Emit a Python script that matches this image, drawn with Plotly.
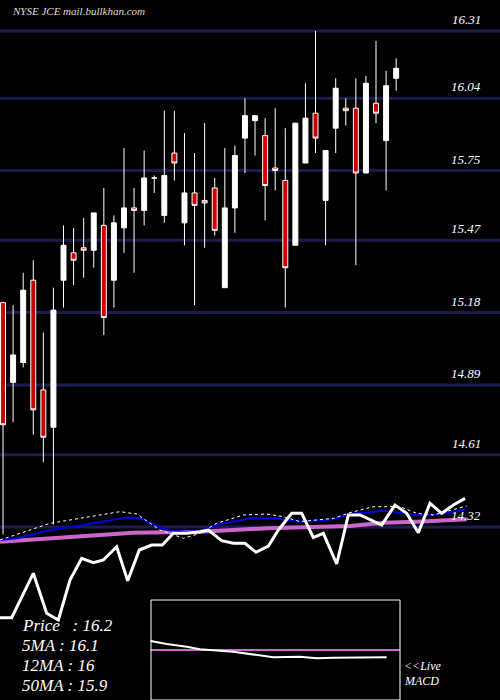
import plotly.graph_objects as go

idx = list(range(40))
opens  = [15.22,14.90,14.98,15.31,14.87,14.72,15.31,15.42,15.44,15.43,15.53,15.31,15.52,15.60,15.59,15.72,15.57,15.82,15.54,15.66,
          15.63,15.68,15.28,15.60,15.88,15.95,15.89,15.76,15.71,15.45,15.78,15.98,15.63,15.92,16.00,16.00,15.74,16.02,15.87,16.12]
highs  = [15.22,15.21,15.34,15.39,15.10,15.28,15.53,15.52,15.56,15.58,15.68,15.57,15.84,15.68,15.83,15.73,15.99,15.99,15.90,15.82,
          15.94,15.72,15.84,15.85,16.04,15.97,15.96,16.00,15.92,15.94,16.10,16.31,15.83,16.12,16.04,16.12,16.13,16.27,16.15,16.20]
lows   = [14.29,14.74,14.96,14.69,14.58,14.33,15.20,15.29,15.32,15.36,15.09,15.20,15.42,15.34,15.53,15.66,15.54,15.71,15.45,15.21,
          15.44,15.49,15.28,15.50,15.74,15.81,15.55,15.67,15.20,15.45,15.78,15.82,15.45,15.82,15.93,15.37,15.74,15.94,15.67,16.07]
closes = [14.73,15.01,15.27,14.79,14.68,15.19,15.45,15.39,15.43,15.58,15.16,15.54,15.60,15.59,15.72,15.72,15.73,15.78,15.66,15.61,
          15.62,15.51,15.60,15.81,15.97,15.97,15.69,15.75,15.36,15.94,15.96,15.88,15.83,16.08,15.99,15.74,16.10,15.98,16.09,16.16]
tick_vals = [16.31,16.04,15.75,15.47,15.18,14.89,14.61,14.32]
tick_text = ["16.31","16.04","15.75","15.47","15.18","14.89","14.61","14.32"]

# lower indicator panel (panel units)
thick_x = [0,35,100,140,175,210,245,280,310,350,383,418,455,487,520,560,600,625,665,700,735,768,805,835,875,905,940,970,1010,1045,1080,1110,1145,1185,1220,1255,1290,1325,1360,1395]
thick_y = [383,383,250,370,390,270,205,218,210,170,272,180,165,165,130,130,125,120,152,160,160,187,168,120,70,70,143,130,222,75,75,90,105,45,70,128,40,70,45,25]
blue_x = [0,50,150,250,380,420,500,560,600,650,750,820,900,1000,1050,1150,1250,1300,1400]
blue_y = [150,145,120,105,82,85,120,125,122,105,85,85,95,88,72,62,75,75,58]
dot_x = [0,60,150,300,360,410,480,550,600,650,730,800,850,900,1000,1050,1120,1200,1250,1300,1400]
dot_y = [150,130,100,75,65,72,120,145,130,100,75,72,80,95,85,68,50,50,70,75,48]
pink_x = [0,400,600,800,1050,1150,1250,1400]
pink_y = [155,128,125,115,108,98,95,88]
macd_x = [452,500,560,600,700,820,900,950,1000,1160]
macd_y = [453,462,470,478,485,502,500,505,503,502]
signal_x = [452,1200]
signal_y = [480,480]
info_lines = ["Price   : 16.2","5MA : 16.1","12MA : 16","50MA : 15.9"]

serif = "Liberation Serif"
fig = go.Figure()
fig.add_trace(go.Candlestick(x=idx, open=opens, high=highs, low=lows, close=closes,
    increasing=dict(fillcolor="white", line=dict(color="white", width=1)),
    decreasing=dict(fillcolor="#cc0000", line=dict(color="white", width=1)),
    whiskerwidth=0, showlegend=False, hoverinfo="skip"))
for tv in tick_vals:
    fig.add_shape(type="line", xref="paper", x0=0, x1=1, yref="y", y0=tv, y1=tv,
                  line=dict(color="#1c1c4c", width=3), layer="below")
for tv, tt in zip(tick_vals, tick_text):
    fig.add_annotation(x=0.965, xref="paper", y=tv, yref="y", text=tt, showarrow=False,
                       xanchor="right", yanchor="bottom", yshift=2,
                       font=dict(family=serif, size=13, color="white", style="italic"))

def ln(x, y, color, width, dash=None):
    fig.add_trace(go.Scatter(x=x, y=y, xaxis="x2", yaxis="y2", mode="lines",
        line=dict(color=color, width=width, dash=dash), showlegend=False, hoverinfo="skip"))
ln(pink_x, pink_y, "#cc66cc", 4)
ln(blue_x, blue_y, "#0000dd", 2)
ln(dot_x, dot_y, "white", 1, "dot")
ln(thick_x, thick_y, "white", 3)
ln(signal_x, signal_y, "#cc66cc", 2)
ln(macd_x, macd_y, "white", 2)

fig.add_shape(type="rect", xref="paper", yref="paper", x0=151/500, x1=400/500, y0=0, y1=100/700,
              line=dict(color="white", width=1))
for i, t in enumerate(info_lines):
    fig.add_annotation(xref="paper", yref="paper", x=20/500, y=1-(625+20*i)/700, text=t, showarrow=False,
                       xanchor="left", yanchor="middle", font=dict(family=serif, size=17, color="white", style="italic"))
fig.add_annotation(xref="paper", yref="paper", x=402/500, y=1-666/700, text="<<Live", showarrow=False,
                   xanchor="left", yanchor="middle", font=dict(family=serif, size=12, color="white", style="italic"))
fig.add_annotation(xref="paper", yref="paper", x=402/500, y=1-681/700, text="MACD", showarrow=False,
                   xanchor="left", yanchor="middle", font=dict(family=serif, size=12, color="white", style="italic"))
fig.add_annotation(xref="paper", yref="paper", x=10/500, y=1-11/700, text="NYSE JCE mail.bullkhan.com", showarrow=False,
                   xanchor="left", yanchor="middle", font=dict(family=serif, size=11, color="#dddddd", style="italic"))

fig.update_layout(width=500, height=700, margin=dict(l=0, r=0, t=0, b=0),
    paper_bgcolor="black", plot_bgcolor="black",
    xaxis=dict(range=[-0.3, 49.3], visible=False, rangeslider=dict(visible=False), fixedrange=True),
    yaxis=dict(range=[13.626, 16.434], visible=False),
    xaxis2=dict(range=[0, 1500], overlaying="x", visible=False),
    yaxis2=dict(range=[630, -1470], overlaying="y", visible=False))
fig.write_html("out.html", config={"displayModeBar": False},
               post_script="document.body.style.margin='0';document.body.style.background='black';")
